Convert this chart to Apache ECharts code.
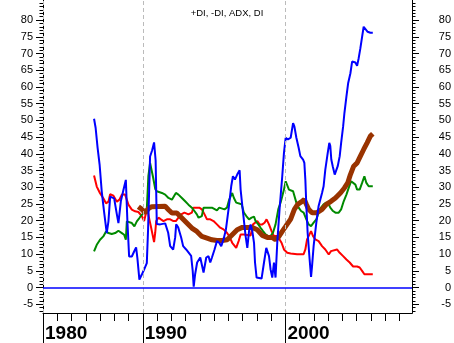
<!DOCTYPE html>
<html>
<head>
<meta charset="utf-8">
<script src="https://cdn.jsdelivr.net/npm/echarts@6/dist/echarts.min.js"></script>
<style>html,body{margin:0;padding:0;background:#fff}#c{width:454px;height:343px}</style>
</head>
<body>
<div id="c"></div>
<script>
const chartTitle = '+DI, -DI, ADX, DI';
const yMajorTicks = [-5,0,5,10,15,20,25,30,35,40,45,50,55,60,65,70,75,80];
const yMinorTicks = [-7,-6,-4,-3,-2,-1,1,2,3,4,6,7,8,9,11,12,13,14,16,17,18,19,21,22,23,24,26,27,28,29,31,32,33,34,36,37,38,39,41,42,43,44,46,47,48,49,51,52,53,54,56,57,58,59,61,62,63,64,66,67,68,69,71,72,73,74,76,77,78,79,81,82,83,84,85];
const yearTicks = [1983,1984,1985,1986,1987,1988,1989,1990,1991,1992,1993,1994,1995,1996,1997,1998,1999,2000,2001,2002,2003,2004,2005,2006,2007,2008];
const decadeTicks = [1983,1990,2000];
const decadeLabels = {1983:'1980',1990:'1990',2000:'2000'};

const blueT = [1986.58,1986.69,1986.83,1986.97,1987.12,1987.28,1987.47,1987.59,1987.71,1987.99,1988.18,1988.29,1988.46,1988.64,1988.81,1988.92,1989.04,1989.23,1989.39,1989.53,1989.62,1989.76,1989.93,1990.09,1990.28,1990.37,1990.51,1990.65,1990.79,1990.90,1990.98,1991.22,1991.57,1991.78,1991.92,1992.13,1992.27,1992.34,1992.48,1992.69,1992.83,1993.04,1993.18,1993.39,1993.50,1993.57,1993.67,1993.81,1994.03,1994.26,1994.45,1994.61,1994.73,1994.85,1995.03,1995.20,1995.36,1995.50,1995.66,1995.83,1996.03,1996.20,1996.32,1996.46,1996.62,1996.79,1996.86,1996.98,1997.21,1997.33,1997.45,1997.56,1997.68,1997.80,1997.87,1997.98,1998.10,1998.33,1998.50,1998.66,1998.73,1998.85,1998.96,1999.08,1999.20,1999.27,1999.31,1999.43,1999.59,1999.78,1999.90,2000.02,2000.18,2000.37,2000.54,2000.63,2000.77,2000.93,2001.05,2001.24,2001.33,2001.40,2001.47,2001.56,2001.70,2001.80,2001.87,2001.98,2002.17,2002.33,2002.57,2002.68,2002.80,2002.97,2003.08,2003.15,2003.22,2003.32,2003.46,2003.56,2003.67,2003.81,2003.91,2004.05,2004.14,2004.28,2004.40,2004.56,2004.68,2004.79,2004.91,2005.03,2005.14,2005.26,2005.38,2005.49,2005.61,2005.77,2005.96,2006.13];
const blueV = [50.5,47.8,41.8,36.8,28.7,22.8,16.3,19.8,27.2,26.7,21.9,19.3,25.8,29.2,32.2,19.8,9.3,9.3,10.8,12,8.8,2.4,3.9,5.4,7.3,17.4,39.2,41,43.4,38,19,18.9,19.2,16.4,12.4,11.4,15,18.9,18,15,12.4,11.4,11.4,9.5,5,0.3,4,7.5,9,4.5,9,9.4,7.5,9,11.4,13.9,13.4,12.4,14.4,17.4,24,30.3,33.3,32.3,33.8,35.1,29.3,24.4,15.4,11.9,16.9,18.9,16.9,13.4,7.5,3,2.5,2.7,7.5,11.9,12.4,9.4,5.5,3,7.5,4.5,3,13.4,23.4,33.3,40.3,44.8,44.3,44.8,49.2,48.2,44.8,41.8,39.3,38.3,37.3,32.3,24.4,16.4,8.4,3.2,6.4,12.4,19.4,24.4,28.3,30.3,35.3,40.3,43.3,42.3,38.3,36.3,33.8,33.3,36.3,39.3,43.3,48.2,52.2,57.1,61.1,64.1,67.6,68.1,67.3,66.3,68.6,71.6,75,78,77.5,76.5,76.2,76.2];

const redT = [1986.58,1986.77,1987.00,1987.23,1987.42,1987.59,1987.71,1987.94,1988.18,1988.36,1988.53,1988.76,1988.99,1989.23,1989.46,1989.69,1989.93,1990.09,1990.23,1990.32,1990.46,1990.56,1990.68,1990.79,1990.87,1990.94,1991.10,1991.27,1991.45,1991.69,1991.92,1992.15,1992.32,1992.50,1992.69,1992.92,1993.20,1993.44,1993.55,1993.96,1994.14,1994.33,1994.50,1994.73,1994.96,1995.20,1995.43,1995.66,1995.90,1996.06,1996.27,1996.55,1996.72,1996.86,1997.09,1997.56,1997.73,1997.87,1998.03,1998.19,1998.38,1998.54,1998.68,1998.85,1999.03,1999.20,1999.43,1999.59,1999.73,1999.90,2000.13,2000.37,2000.82,2001.28,2001.40,2001.52,2001.63,2001.80,2001.94,2002.10,2002.33,2002.57,2002.80,2003.04,2003.20,2003.62,2003.81,2004.05,2004.28,2004.51,2004.75,2005.03,2005.21,2005.38,2005.54,2006.13];
const redV = [33.5,30.2,28.2,26.7,25.2,25.7,27.9,27.5,25.7,26.3,27.8,27.8,24.8,23.3,22.8,22.6,21.4,19.9,22.4,23.4,20.4,18.4,15.9,13.6,16.4,19.9,20.9,20.4,19.9,20.4,20.4,19.9,19.9,20.9,21.9,22.4,21.9,22.4,23.9,23.9,23.4,21.9,20.4,20.4,19.9,18.9,17.9,17.4,16.4,15.4,13.4,11.9,13.9,15.9,15.9,15.6,18.9,18.9,19.9,18.9,18.9,19.4,20.4,18.9,16.9,15.4,15.4,14.4,13.4,11.4,10.4,10.2,10,10,11.4,14.4,14.9,16.9,15.4,14.4,13.9,12.4,11.4,9.9,10.9,11.4,10.4,9.4,8.4,7.5,6.3,6.3,6,5,4,4];

const greenT = [1986.58,1986.77,1987.00,1987.23,1987.42,1987.59,1987.82,1988.06,1988.29,1988.53,1988.69,1988.81,1988.88,1988.99,1989.23,1989.41,1989.58,1989.76,1989.93,1990.09,1990.28,1990.39,1990.51,1990.63,1990.72,1990.87,1990.98,1991.34,1991.57,1991.80,1992.04,1992.15,1992.32,1992.50,1992.74,1992.97,1993.20,1993.44,1993.62,1993.79,1993.91,1994.03,1994.14,1994.26,1994.38,1994.85,1995.20,1995.36,1995.73,1995.90,1996.06,1996.27,1996.39,1996.55,1996.93,1997.09,1997.26,1997.45,1997.63,1997.80,1997.91,1998.10,1998.26,1998.43,1998.61,1998.80,1998.96,1999.13,1999.31,1999.50,1999.66,1999.78,1999.90,2000.02,2000.13,2000.25,2000.37,2000.54,2000.63,2000.77,2000.93,2001.10,2001.28,2001.47,2001.63,2001.80,2001.98,2002.17,2002.33,2002.50,2002.68,2002.87,2003.04,2003.15,2003.34,2003.51,2003.74,2003.91,2004.09,2004.28,2004.44,2004.61,2004.75,2004.91,2005.03,2005.21,2005.38,2005.54,2005.68,2005.84,2006.13];
const greenV = [10.8,12.8,14.3,15.3,16.8,16.3,16,16.3,17,16.3,15.8,14.3,19.8,20.3,19.3,18.3,19.8,20.8,21.8,22.3,23.4,33.3,37.3,37.8,33,29.5,28.8,28.3,27.8,26.8,26.3,26.8,28.3,27.8,26.8,25.8,24.8,23.9,22.9,21.9,20.9,20.4,21.4,23.9,24.2,23.9,23.1,23.9,23.4,23.9,26.3,28.3,26.8,25.4,24.9,22.4,21.4,20.4,20.9,21.2,19.9,18.9,17.9,16.9,15.9,15.4,15.4,16.4,18.9,23.4,25.4,27.3,29.3,31.8,31.3,29.3,29.8,28.8,28.3,25.4,23.9,22.9,22.4,20.4,18.9,18.4,19.4,20.4,22.4,23.9,24.9,25.4,24.9,23.9,22.9,22.4,22.4,23.4,25.8,27.8,29.8,31.8,32.3,30.8,29.3,29.3,31.3,33.3,31.3,30.3,30.3];

const adxT = [1989.69,1989.93,1990.16,1990.39,1990.63,1991.57,1991.80,1992.04,1992.39,1992.74,1993.09,1993.44,1993.79,1994.14,1994.50,1994.85,1995.20,1995.55,1995.92,1996.27,1996.62,1996.98,1997.68,1998.03,1998.38,1998.73,1999.08,1999.31,1999.55,1999.78,2000.02,2000.37,2000.63,2000.86,2001.17,2001.33,2001.47,2001.63,2001.87,2002.22,2002.57,2002.87,2003.20,2003.51,2003.86,2004.14,2004.37,2004.56,2004.79,2005.03,2005.26,2005.49,2005.73,2005.96,2006.13];
const adxV = [24.2,23.4,22.4,23.6,24.2,24.3,23.3,22.3,22.3,20.8,19.3,17.8,16.8,15.3,14.8,14.3,14.1,14.1,14.3,15.8,17.3,18,18,17.3,15.6,15,15,14.3,15.3,16.8,18.3,20.5,23.4,24.9,25.8,26.3,24.9,23.4,22.4,22.4,23.4,24.9,25.8,26.8,28.3,29.8,31.3,33.8,36.3,37.3,39.3,41.3,43.3,45.3,46];

const zip = (t, v) => t.map((x, i) => [x, v[i]]);
const yMin = -7.6, yMax = 86, xMin = 1983, xMax = 2008.88;
const lblFont = 'Liberation Sans, Arial, sans-serif';

const chart = echarts.init(document.getElementById('c'), null, {renderer: 'canvas'});
const yBase = (pos, ticks, len, label, margin) => ({
  type: 'value', position: pos, min: yMin, max: yMax,
  axisLine: {show: true, onZero: false, lineStyle: {color: '#000', width: 1}},
  axisTick: {show: true, inside: false, length: len, customValues: ticks, lineStyle: {color: '#000', width: 1}},
  axisLabel: label ? {show: true, customValues: ticks, margin: margin, color: '#000', fontSize: 11, fontFamily: lblFont,
    align: 'right'} : {show: false},
  splitLine: {show: false}
});
chart.setOption({
  animation: false,
  backgroundColor: '#fff',
  title: {text: chartTitle, left: 'center', top: 3, textStyle: {fontSize: 9.5, fontWeight: 'normal', color: '#000', fontFamily: lblFont}},
  grid: {left: 43, right: 42, top: 0, bottom: 29, containLabel: false},
  xAxis: [
    {type: 'value', min: xMin, max: xMax, position: 'bottom',
     axisLine: {show: true, onZero: false, lineStyle: {color: '#000', width: 1}},
     axisTick: {show: true, length: 8, customValues: yearTicks, lineStyle: {color: '#000', width: 1}},
     axisLabel: {show: false}, splitLine: {show: false}},
    {type: 'value', min: xMin, max: xMax, position: 'bottom',
     axisLine: {show: false, onZero: false},
     axisTick: {show: true, length: 30, customValues: decadeTicks, lineStyle: {color: '#000', width: 1}},
     axisLabel: {show: true, customValues: decadeTicks, formatter: v => decadeLabels[v] || '', align: 'left', margin: 11,
       padding: [0, 0, 0, 2], color: '#000', fontSize: 19, fontWeight: 'bold',
       fontFamily: "'Liberation Sans', Arial, sans-serif"},
     splitLine: {show: false}}
  ],
  yAxis: [
    yBase('left', yMajorTicks, 7, true, 10),
    yBase('left', yMinorTicks, 3.5, false, 0),
    yBase('right', yMajorTicks, 7, true, 39),
    yBase('right', yMinorTicks, 3.5, false, 0)
  ],
  series: [
    {type: 'line', name: 'guides', data: [], xAxisIndex: 0, yAxisIndex: 0, silent: true,
     markLine: {silent: true, symbol: 'none', label: {show: false}, animation: false,
       data: [
         {xAxis: 1983, lineStyle: {color: '#bbb', type: [4, 3], width: 1}},
         {xAxis: 1990, lineStyle: {color: '#bbb', type: [4, 3], width: 1}},
         {xAxis: 2000, lineStyle: {color: '#bbb', type: [4, 3], width: 1}},
         {yAxis: 0, lineStyle: {color: '#0000ff', type: 'solid', width: 1.5}}
       ]}},
    {type: 'line', name: '-DI', data: zip(redT, redV), showSymbol: false, lineStyle: {color: '#ff0000', width: 2}, itemStyle: {color: '#ff0000'}},
    {type: 'line', name: '+DI', data: zip(greenT, greenV), showSymbol: false, lineStyle: {color: '#008a00', width: 2}, itemStyle: {color: '#008a00'}},
    {type: 'line', name: 'ADX', data: zip(adxT, adxV), showSymbol: false, lineStyle: {color: '#993300', width: 5}, itemStyle: {color: '#993300'}},
    {type: 'line', name: 'DI', data: zip(blueT, blueV), showSymbol: false, lineStyle: {color: '#0000ff', width: 2}, itemStyle: {color: '#0000ff'}}
  ]
});
</script>
</body>
</html>
